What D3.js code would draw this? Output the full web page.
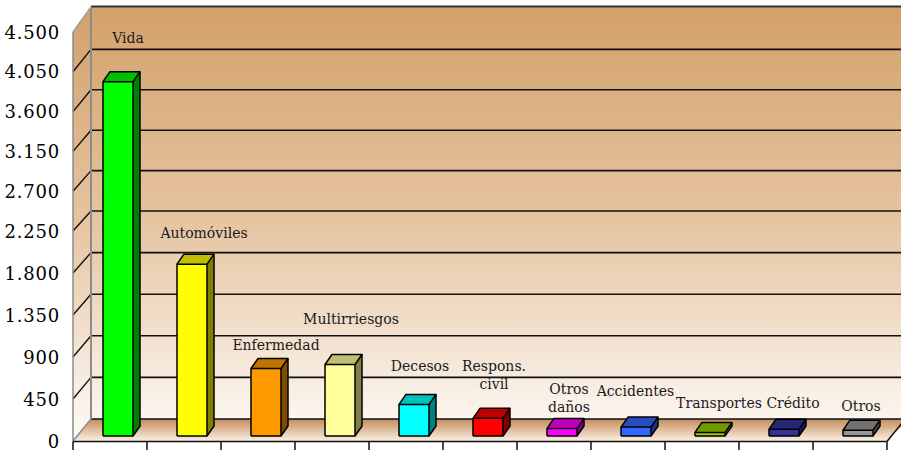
<!DOCTYPE html>
<html>
<head>
<meta charset="utf-8">
<script src="https://cdn.jsdelivr.net/npm/d3@7"></script>
<style>
  body { margin: 0; background: #fff; }
  svg { display: block; }
</style>
</head>
<body>
<svg id="chart" width="901" height="450"></svg>
<script>
// datos
const categories = ['Vida', 'Automóviles', 'Enfermedad', 'Multirriesgos', 'Decesos', 'Respons.\ncivil',
  'Otros\ndaños', 'Accidentes', 'Transportes', 'Crédito', 'Otros'];
const values = [3885, 1850, 727, 770, 340, 190, 82, 96, 39, 74, 63];
const barColors = ['#00ff00', '#ffff00', '#ff9900', '#ffff99', '#00ffff', '#ff0000',
  '#ff00ff', '#3366ff', '#99cc00', '#333399', '#969696'];
const yTicks = [0, 450, 900, 1350, 1800, 2250, 2700, 3150, 3600, 4050, 4500];
const yTickLabels = ['0', '450', '900', '1.350', '1.800', '2.250', '2.700', '3.150', '3.600', '4.050', '4.500'];

// ajuste de las etiquetas (px)
const labelDx = [18, 20, 18, 19, 14, 14, 15, 7.5, 17, 17, 11];
const labelLift = [39, 26, 18, 40, 33, 47, 34, 31, 24, 21, 19];

const svg = d3.select('#chart');
const defs = svg.append('defs');

const x = d3.scaleBand().domain(categories).range([73, 887]);
// escala del plano frontal, del fondo y de las barras (ligera perspectiva)
const yFront = d3.scaleLinear().domain([0, 2250, 4500]).range([441, 231, 32]);
const yBack = d3.scaleLinear().domain([0, 2250, 4500]).range([419, 211, 9]);
const yBar = d3.scaleLinear().domain([0, 2250, 4500]).range([436, 227, 27]);

const wallGrad = defs.append('linearGradient').attr('id', 'wall')
  .attr('gradientUnits', 'userSpaceOnUse').attr('x1', 0).attr('y1', 7).attr('x2', 0).attr('y2', 441);
wallGrad.append('stop').attr('offset', 0).attr('stop-color', '#d3a06a');
wallGrad.append('stop').attr('offset', 0.5).attr('stop-color', '#e6c5a2');
wallGrad.append('stop').attr('offset', 1).attr('stop-color', '#fefbf8');

const floorGrad = defs.append('linearGradient').attr('id', 'floor')
  .attr('gradientUnits', 'userSpaceOnUse').attr('x1', 0).attr('y1', 419).attr('x2', 0).attr('y2', 441);
floorGrad.append('stop').attr('offset', 0).attr('stop-color', '#c48d5b');
floorGrad.append('stop').attr('offset', 1).attr('stop-color', '#fbefe3');

const line = d3.line();

// pared del fondo
svg.append('rect').attr('x', 91).attr('y', 7).attr('width', 820).attr('height', 412)
  .attr('fill', 'url(#wall)');
// pared izquierda
svg.append('path')
  .attr('d', line([[73, yFront(4500)], [91, 7], [91, 419], [73, yFront(0)]]) + 'Z')
  .attr('fill', 'url(#wall)');
// suelo
svg.append('path')
  .attr('d', line([[73, yFront(0)], [91, 419], [910, 419], [887, yFront(0)]]) + 'Z')
  .attr('fill', 'url(#floor)');

// líneas de división
const grid = yTicks.filter(d => d > 0 && d < 4500);
svg.append('g').selectAll('line').data(grid).join('line')
  .attr('x1', 91).attr('x2', 901)
  .attr('y1', d => yBack(d)).attr('y2', d => yBack(d))
  .attr('stroke', '#111').attr('stroke-width', 1.6);
svg.append('g').selectAll('line').data(grid).join('line')
  .attr('x1', 73).attr('x2', 91)
  .attr('y1', d => yFront(d)).attr('y2', d => yBack(d))
  .attr('stroke', '#111').attr('stroke-width', 1.4);

// bordes
svg.append('line').attr('x1', 91).attr('x2', 901).attr('y1', 6.5).attr('y2', 6.5)
  .attr('stroke', '#333').attr('stroke-width', 2);
svg.append('line').attr('x1', 91).attr('x2', 901).attr('y1', 419).attr('y2', 419)
  .attr('stroke', '#111').attr('stroke-width', 1.6);
svg.append('line').attr('x1', 91).attr('x2', 91).attr('y1', 7).attr('y2', 419)
  .attr('stroke', '#8c8c8c').attr('stroke-width', 2);
svg.append('path').attr('d', line([[73, yFront(4500)], [91, 7]]))
  .attr('stroke', '#a0a0a0').attr('stroke-width', 1.5).attr('fill', 'none');
svg.append('line').attr('x1', 73).attr('x2', 73).attr('y1', yFront(4500)).attr('y2', yFront(0))
  .attr('stroke', '#8c8c8c').attr('stroke-width', 1.5);
svg.append('path').attr('d', line([[73, yFront(0)], [91, 419]]))
  .attr('stroke', '#8c8c8c').attr('stroke-width', 1.5).attr('fill', 'none');
svg.append('path').attr('d', line([[887, yFront(0) + 0.5], [910, 413]]))
  .attr('stroke', '#111').attr('stroke-width', 1.5).attr('fill', 'none');

// eje de categorías
svg.append('line').attr('x1', 73).attr('x2', 887).attr('y1', yFront(0) + 0.5).attr('y2', yFront(0) + 0.5)
  .attr('stroke', '#111').attr('stroke-width', 1.5);
const bounds = categories.map(c => x(c)).concat([x.range()[1]]);
svg.append('g').selectAll('line').data(bounds).join('line')
  .attr('x1', d => d).attr('x2', d => d)
  .attr('y1', yFront(0) + 0.5).attr('y2', 450)
  .attr('stroke', '#111').attr('stroke-width', 1.5);

// etiquetas del eje de valores
svg.append('g').selectAll('text').data(yTicks).join('text')
  .attr('x', 60).attr('y', d => yFront(d))
  .attr('text-anchor', 'end').attr('dominant-baseline', 'central')
  .style('font-family', '"DejaVu Serif", serif').style('font-size', '18px')
  .style('letter-spacing', '0.8px').style('fill', '#000')
  .text((d, i) => yTickLabels[i]);

// barras 3D
const bw = 30, ddx = 7, ddy = -10;
const bars = svg.append('g').selectAll('g').data(values).join('g');
bars.each(function(v, i) {
  const g = d3.select(this);
  const c = d3.rgb(barColors[i]);
  const top = d3.rgb(c.r * 0.75, c.g * 0.75, c.b * 0.75);
  const side = d3.rgb(c.r * 0.5, c.g * 0.5, c.b * 0.5);
  const x0 = x(categories[i]) + x.bandwidth() / 2 - 7;
  const yt = yBar(v), y0 = yBar(0);
  g.append('path')
    .attr('d', line([[x0 + bw, yt], [x0 + bw + ddx, yt + ddy], [x0 + bw + ddx, y0 + ddy], [x0 + bw, y0]]) + 'Z')
    .attr('fill', side);
  g.append('path')
    .attr('d', line([[x0, yt], [x0 + ddx, yt + ddy], [x0 + bw + ddx, yt + ddy], [x0 + bw, yt]]) + 'Z')
    .attr('fill', top);
  g.append('rect').attr('x', x0).attr('y', yt).attr('width', bw).attr('height', y0 - yt)
    .attr('fill', c);
  g.append('path')
    .attr('d', line([[x0, y0], [x0, yt], [x0 + ddx, yt + ddy], [x0 + bw + ddx, yt + ddy],
      [x0 + bw + ddx, y0 + ddy], [x0 + bw, y0], [x0, y0]]))
    .attr('fill', 'none').attr('stroke', '#000').attr('stroke-width', 1.5).attr('stroke-linejoin', 'round');
  g.append('path')
    .attr('d', line([[x0 + bw, y0], [x0 + bw, yt], [x0 + bw + ddx, yt + ddy]]) + 'M' + x0 + ',' + yt + 'L' + (x0 + bw) + ',' + yt)
    .attr('fill', 'none').attr('stroke', '#000').attr('stroke-width', 1.5);
});

// etiquetas de categoría
const labels = svg.append('g')
  .style('font-family', '"DejaVu Serif", serif').style('font-size', '14px').style('fill', '#1a1a1a');
categories.forEach((c, i) => {
  const cx = x(c) + x.bandwidth() / 2 + labelDx[i];
  const by = yBar(values[i]) - labelLift[i];
  const t = labels.append('text').attr('text-anchor', 'middle');
  c.split('\n').forEach((part, k) => {
    t.append('tspan').attr('x', cx).attr('y', by + k * 18).text(part);
  });
});
</script>
</body>
</html>
